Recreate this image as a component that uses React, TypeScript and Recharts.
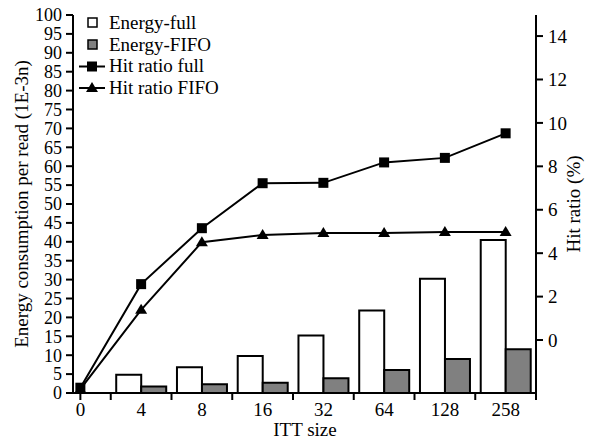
import * as React from "react";
import {
  Bar,
  ComposedChart,
  Label,
  Legend,
  Line,
  XAxis,
  YAxis,
} from "recharts";

const categories = ["0", "4", "8", "16", "32", "64", "128", "258"];
const energyFull = [null, 4.8, 6.8, 9.8, 15.2, 21.8, 30.2, 40.5];
const energyFifo = [null, 1.7, 2.3, 2.7, 3.9, 6.1, 9.0, 11.6];
const hitRatioFull = [1.4, 28.8, 43.6, 55.5, 55.6, 61.0, 62.2, 68.7];
const hitRatioFifo = [1.0, 22.0, 39.9, 41.8, 42.3, 42.3, 42.6, 42.6];

const leftTicks = [0, 5, 10, 15, 20, 25, 30, 35, 40, 45, 50, 55, 60, 65, 70, 75, 80, 85, 90, 95, 100];
const rightTicks = [0, 2, 4, 6, 8, 10, 12, 14];
const legendOrder = ["energyFull", "energyFifo", "hitFull", "hitFifo"];

const data = categories.map((c, i) => ({
  size: c,
  energyFull: energyFull[i],
  energyFifo: energyFifo[i],
  hitFull: hitRatioFull[i],
  hitFifo: hitRatioFifo[i],
}));

const FONT = "'Liberation Serif', 'Times New Roman', serif";
const GRAY = "#808080";
const BAND = 486 / 8;

const XTick = (props: any) => {
  const { x, y, payload, index } = props;
  return (
    <g>
      {index === 0 && (
        <line x1={x} x2={x} y1={y - 8} y2={y - 1} stroke="#000" strokeWidth={2} />
      )}
      <line
        x1={x + BAND / 2}
        x2={x + BAND / 2}
        y1={y - 8}
        y2={y - 1}
        stroke="#000"
        strokeWidth={2}
      />
      <text
        x={x}
        y={y + 15}
        textAnchor="middle"
        fontFamily={FONT}
        fontSize={19}
        fill="#000"
      >
        {payload.value}
      </text>
    </g>
  );
};

const SquareDot = (props: any) => {
  const { cx, cy } = props;
  if (cx == null || cy == null) return null;
  return <rect x={cx - 5} y={cy - 5} width={10} height={10} fill="#000" />;
};

const TriangleDot = (props: any) => {
  const { cx, cy } = props;
  if (cx == null || cy == null) return null;
  return (
    <polygon
      points={`${cx},${cy - 6} ${cx + 6},${cy + 4} ${cx - 6},${cy + 4}`}
      fill="#000"
    />
  );
};

const LegendContent = (props: any) => {
  const items = [...(props.payload || [])].sort(
    (a: any, b: any) => legendOrder.indexOf(a.dataKey) - legendOrder.indexOf(b.dataKey),
  );
  return (
    <div style={{ fontFamily: FONT, fontSize: 19, color: "#000" }}>
      {items.map((item: any) => {
        const key = item.dataKey;
        let icon: React.ReactNode;
        if (key === "energyFull" || key === "energyFifo") {
          icon = (
            <rect
              x={9}
              y={6}
              width={9}
              height={9}
              fill={key === "energyFull" ? "#fff" : GRAY}
              stroke="#000"
              strokeWidth={1.5}
            />
          );
        } else if (key === "hitFull") {
          icon = (
            <g>
              <line x1={0} x2={26} y1={10.5} y2={10.5} stroke="#000" strokeWidth={2} />
              <rect x={8} y={5.5} width={10} height={10} fill="#000" />
            </g>
          );
        } else {
          icon = (
            <g>
              <line x1={0} x2={26} y1={11} y2={11} stroke="#000" strokeWidth={2} />
              <polygon points="13,5 19,15 7,15" fill="#000" />
            </g>
          );
        }
        return (
          <div
            key={key}
            style={{ display: "flex", alignItems: "center", height: 21.7, lineHeight: "21.7px" }}
          >
            <svg width={27} height={21} style={{ marginRight: 3 }}>
              {icon}
            </svg>
            <span>{item.value}</span>
          </div>
        );
      })}
    </div>
  );
};

export default function App() {
  return (
    <div style={{ position: "absolute", left: 0, top: 0, background: "#fff" }}>
      <ComposedChart
        width={600}
        height={440}
        data={data}
        margin={{ top: 15, right: 0, bottom: 0, left: 0 }}
        barCategoryGap="9%"
        barGap={0}
      >
        <XAxis
          dataKey="size"
          height={47}
          padding={{ left: -23, right: 0 }}
          axisLine={{ stroke: "#000", strokeWidth: 2 }}
          tickLine={false}
          tickSize={7}
          tickMargin={1}
          interval={0}
          tick={<XTick />}
        >
          <Label
            content={(p: any) => {
              const vb = p.viewBox || {};
              return (
                <text
                  x={305}
                  y={(vb.y || 393) + 43}
                  textAnchor="middle"
                  fontFamily={FONT}
                  fontSize={19}
                  fill="#000"
                >
                  ITT size
                </text>
              );
            }}
          />
        </XAxis>
        <YAxis
          yAxisId="left"
          width={73}
          domain={[0, 100]}
          ticks={leftTicks}
          interval={0}
          axisLine={{ stroke: "#000", strokeWidth: 2 }}
          tickLine={{ stroke: "#000", strokeWidth: 2 }}
          tickSize={7}
          tickMargin={4}
          tick={{ fontFamily: FONT, fontSize: 18, fill: "#000" }}
        >
          <Label
            content={(p: any) => {
              const vb = p.viewBox || {};
              const cx = 21;
              const cy = (vb.y || 15) + (vb.height || 378) / 2;
              return (
                <text
                  x={cx}
                  y={cy}
                  transform={`rotate(-90, ${cx}, ${cy})`}
                  textAnchor="middle"
                  dominantBaseline="central"
                  fontFamily={FONT}
                  fontSize={19}
                  fill="#000"
                >
                  Energy consumption per read (1E-3n)
                </text>
              );
            }}
          />
        </YAxis>
        <YAxis
          yAxisId="right"
          orientation="right"
          width={64}
          type="number"
          domain={[-2.44, 14.97]}
          allowDataOverflow
          ticks={rightTicks}
          interval={0}
          axisLine={{ stroke: "#000", strokeWidth: 2 }}
          tickLine={{ stroke: "#000", strokeWidth: 2 }}
          tickSize={7}
          tickMargin={5}
          tick={{ fontFamily: FONT, fontSize: 19, fill: "#000" }}
        >
          <Label
            content={(p: any) => {
              const vb = p.viewBox || {};
              const cx = 573;
              const cy = (vb.y || 15) + (vb.height || 378) / 2;
              return (
                <text
                  x={cx}
                  y={cy}
                  transform={`rotate(-90, ${cx}, ${cy})`}
                  textAnchor="middle"
                  dominantBaseline="central"
                  fontFamily={FONT}
                  fontSize={19}
                  fill="#000"
                >
                  Hit ratio (%)
                </text>
              );
            }}
          />
        </YAxis>
        <Legend
          layout="vertical"
          verticalAlign="middle"
          align="center"
          content={<LegendContent />}
          wrapperStyle={{ position: "absolute", left: 79, top: 12, width: 200 }}
        />
        <Bar
          yAxisId="left"
          dataKey="energyFull"
          name="Energy-full"
          fill="#fff"
          stroke="#000"
          strokeWidth={2}
          isAnimationActive={false}
        />
        <Bar
          yAxisId="left"
          dataKey="energyFifo"
          name="Energy-FIFO"
          fill={GRAY}
          stroke="#000"
          strokeWidth={2}
          isAnimationActive={false}
        />
        <Line
          yAxisId="left"
          dataKey="hitFull"
          name="Hit ratio full"
          stroke="#000"
          strokeWidth={2}
          dot={<SquareDot />}
          activeDot={false}
          isAnimationActive={false}
        />
        <Line
          yAxisId="left"
          dataKey="hitFifo"
          name="Hit ratio FIFO"
          stroke="#000"
          strokeWidth={2}
          dot={<TriangleDot />}
          activeDot={false}
          isAnimationActive={false}
        />
      </ComposedChart>
    </div>
  );
}
